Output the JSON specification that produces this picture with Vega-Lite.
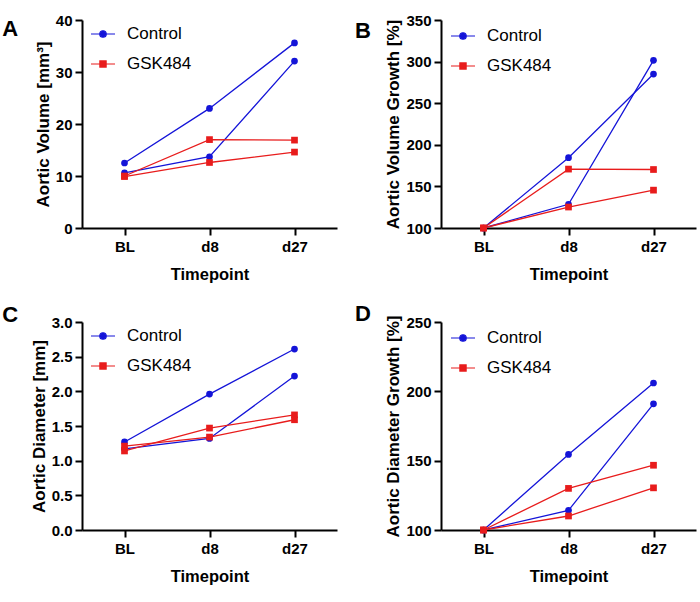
{
  "$schema": "https://vega.github.io/schema/vega-lite/v6.json",
  "padding": {"left": 2, "top": 13, "right": 5, "bottom": 5},
  "bounds": "flush",
  "config": {
    "view": {"stroke": null},
    "font": "Liberation Sans",
    "axis": {
      "grid": false,
      "domainColor": "#000000",
      "domainWidth": 2,
      "tickColor": "#000000",
      "tickWidth": 2,
      "tickSize": 7,
      "labelFont": "Liberation Sans",
      "labelFontSize": 15,
      "labelFontWeight": "bold",
      "labelColor": "#000000",
      "titleFont": "Liberation Sans",
      "titleFontSize": 17,
      "titleFontWeight": "bold",
      "titleColor": "#000000"
    },
    "axisX": {"labelPadding": 4, "titlePadding": 12, "labelAngle": 0, "titleFontSize": 16.5},
    "axisY": {"labelPadding": 3, "titlePadding": 3},
    "title": {"font": "Liberation Sans", "fontSize": 22, "fontWeight": "bold", "color": "#000000"}
  },
  "datasets": {
    "d": [
      {"panel": "A", "group": "Control", "subject": "C1", "time": "BL", "value": 12.5},
      {"panel": "A", "group": "Control", "subject": "C1", "time": "d8", "value": 23.0},
      {"panel": "A", "group": "Control", "subject": "C1", "time": "d27", "value": 35.6},
      {"panel": "A", "group": "Control", "subject": "C2", "time": "BL", "value": 10.6},
      {"panel": "A", "group": "Control", "subject": "C2", "time": "d8", "value": 13.7},
      {"panel": "A", "group": "Control", "subject": "C2", "time": "d27", "value": 32.1},
      {"panel": "A", "group": "GSK484", "subject": "G1", "time": "BL", "value": 10.0},
      {"panel": "A", "group": "GSK484", "subject": "G1", "time": "d8", "value": 17.0},
      {"panel": "A", "group": "GSK484", "subject": "G1", "time": "d27", "value": 16.9},
      {"panel": "A", "group": "GSK484", "subject": "G2", "time": "BL", "value": 9.9},
      {"panel": "A", "group": "GSK484", "subject": "G2", "time": "d8", "value": 12.6},
      {"panel": "A", "group": "GSK484", "subject": "G2", "time": "d27", "value": 14.6},
      {"panel": "B", "group": "Control", "subject": "C1", "time": "BL", "value": 100},
      {"panel": "B", "group": "Control", "subject": "C1", "time": "d8", "value": 184.5},
      {"panel": "B", "group": "Control", "subject": "C1", "time": "d27", "value": 285},
      {"panel": "B", "group": "Control", "subject": "C2", "time": "BL", "value": 100},
      {"panel": "B", "group": "Control", "subject": "C2", "time": "d8", "value": 128.5},
      {"panel": "B", "group": "Control", "subject": "C2", "time": "d27", "value": 301.5},
      {"panel": "B", "group": "GSK484", "subject": "G1", "time": "BL", "value": 100},
      {"panel": "B", "group": "GSK484", "subject": "G1", "time": "d8", "value": 170.8},
      {"panel": "B", "group": "GSK484", "subject": "G1", "time": "d27", "value": 170.3},
      {"panel": "B", "group": "GSK484", "subject": "G2", "time": "BL", "value": 100},
      {"panel": "B", "group": "GSK484", "subject": "G2", "time": "d8", "value": 125.2},
      {"panel": "B", "group": "GSK484", "subject": "G2", "time": "d27", "value": 145.5},
      {"panel": "C", "group": "Control", "subject": "C1", "time": "BL", "value": 1.27},
      {"panel": "C", "group": "Control", "subject": "C1", "time": "d8", "value": 1.96},
      {"panel": "C", "group": "Control", "subject": "C1", "time": "d27", "value": 2.61},
      {"panel": "C", "group": "Control", "subject": "C2", "time": "BL", "value": 1.17},
      {"panel": "C", "group": "Control", "subject": "C2", "time": "d8", "value": 1.32},
      {"panel": "C", "group": "Control", "subject": "C2", "time": "d27", "value": 2.22},
      {"panel": "C", "group": "GSK484", "subject": "G1", "time": "BL", "value": 1.14},
      {"panel": "C", "group": "GSK484", "subject": "G1", "time": "d8", "value": 1.47},
      {"panel": "C", "group": "GSK484", "subject": "G1", "time": "d27", "value": 1.66},
      {"panel": "C", "group": "GSK484", "subject": "G2", "time": "BL", "value": 1.21},
      {"panel": "C", "group": "GSK484", "subject": "G2", "time": "d8", "value": 1.34},
      {"panel": "C", "group": "GSK484", "subject": "G2", "time": "d27", "value": 1.59},
      {"panel": "D", "group": "Control", "subject": "C1", "time": "BL", "value": 100},
      {"panel": "D", "group": "Control", "subject": "C1", "time": "d8", "value": 154.5},
      {"panel": "D", "group": "Control", "subject": "C1", "time": "d27", "value": 206},
      {"panel": "D", "group": "Control", "subject": "C2", "time": "BL", "value": 100},
      {"panel": "D", "group": "Control", "subject": "C2", "time": "d8", "value": 114.2},
      {"panel": "D", "group": "Control", "subject": "C2", "time": "d27", "value": 191},
      {"panel": "D", "group": "GSK484", "subject": "G1", "time": "BL", "value": 100},
      {"panel": "D", "group": "GSK484", "subject": "G1", "time": "d8", "value": 130},
      {"panel": "D", "group": "GSK484", "subject": "G1", "time": "d27", "value": 146.7},
      {"panel": "D", "group": "GSK484", "subject": "G2", "time": "BL", "value": 100},
      {"panel": "D", "group": "GSK484", "subject": "G2", "time": "d8", "value": 110.1},
      {"panel": "D", "group": "GSK484", "subject": "G2", "time": "d27", "value": 130.4}
    ]
  },
  "columns": 2,
  "spacing": {"row": 94, "column": 104},
  "resolve": {
    "scale": {"fill": "independent", "stroke": "independent", "shape": "independent"},
    "legend": {"fill": "independent", "stroke": "independent", "shape": "independent"}
  },
  "concat": [
    {
      "width": 255, "height": 208,
      "title": {"text": "A", "anchor": "start", "frame": "bounds", "offset": 0, "dx": -32, "dy": 28},
      "data": {"name": "d"},
      "transform": [{"filter": "datum.panel == 'A'"}],
      "encoding": {
        "x": {"field": "time", "type": "ordinal", "sort": ["BL", "d8", "d27"], "scale": {"type": "point", "padding": 0.5}, "axis": {"title": "Timepoint"}},
        "y": {"field": "value", "type": "quantitative", "scale": {"domain": [0, 40]}, "axis": {"title": "Aortic Volume [mm³]", "values": [0, 10, 20, 30, 40]}}
      },
      "layer": [
        {"transform": [{"filter": "datum.group == 'Control'"}], "mark": {"type": "line", "strokeWidth": 1.3, "color": "#1414d8"}, "encoding": {"detail": {"field": "subject"}}},
        {"transform": [{"filter": "datum.group == 'GSK484'"}], "mark": {"type": "line", "strokeWidth": 1.3, "color": "#e81c1c"}, "encoding": {"detail": {"field": "subject"}}},
        {"transform": [{"filter": "datum.group == 'Control'"}], "mark": {"type": "circle", "size": 45, "color": "#1414d8", "opacity": 1}},
        {"transform": [{"filter": "datum.group == 'GSK484'"}], "mark": {"type": "square", "size": 45, "color": "#e81c1c", "opacity": 1}},
        {"transform": [{"filter": "datum.panel == 'none'"}], "mark": {"type": "point"},
         "encoding": {
           "fill": {"field": "group", "type": "nominal", "scale": {"domain": ["Control", "GSK484"], "range": ["#1414d8", "#e81c1c"]}, "legend": {"title": null, "orient": "none", "legendX": 8, "legendY": 1, "symbolSize": 576, "symbolStrokeWidth": 1.2, "symbolOpacity": 1, "labelFontSize": 17, "labelFont": "Liberation Sans", "labelColor": "#000000", "labelOffset": 11, "rowPadding": 9, "padding": 0}},
           "stroke": {"field": "group", "type": "nominal", "scale": {"domain": ["Control", "GSK484"], "range": ["#1414d8", "#e81c1c"]}, "legend": {"title": null, "orient": "none", "legendX": 8, "legendY": 1, "symbolSize": 576, "symbolStrokeWidth": 1.2, "symbolOpacity": 1, "labelFontSize": 17, "labelFont": "Liberation Sans", "labelColor": "#000000", "labelOffset": 11, "rowPadding": 9, "padding": 0}},
           "shape": {"field": "group", "type": "nominal", "scale": {"domain": ["Control", "GSK484"], "range": ["M-1,0H1M-0.27,0A0.27,0.27,0,1,0,0.27,0A0.27,0.27,0,1,0,-0.27,0Z", "M-1,0H1M-0.26,-0.26H0.26V0.26H-0.26Z"]}, "legend": {"title": null, "orient": "none", "legendX": 8, "legendY": 1, "symbolSize": 576, "symbolStrokeWidth": 1.2, "symbolOpacity": 1, "labelFontSize": 17, "labelFont": "Liberation Sans", "labelColor": "#000000", "labelOffset": 11, "rowPadding": 9, "padding": 0}}
         }}
      ]
    },
    {
      "width": 255, "height": 208,
      "title": {"text": "B", "anchor": "start", "frame": "bounds", "offset": 0, "dx": -30, "dy": 30},
      "data": {"name": "d"},
      "transform": [{"filter": "datum.panel == 'B'"}],
      "encoding": {
        "x": {"field": "time", "type": "ordinal", "sort": ["BL", "d8", "d27"], "scale": {"type": "point", "padding": 0.5}, "axis": {"title": "Timepoint"}},
        "y": {"field": "value", "type": "quantitative", "scale": {"domain": [100, 350]}, "axis": {"title": "Aortic Volume Growth  [%]", "values": [100, 150, 200, 250, 300, 350]}}
      },
      "layer": [
        {"transform": [{"filter": "datum.group == 'Control'"}], "mark": {"type": "line", "strokeWidth": 1.3, "color": "#1414d8"}, "encoding": {"detail": {"field": "subject"}}},
        {"transform": [{"filter": "datum.group == 'GSK484'"}], "mark": {"type": "line", "strokeWidth": 1.3, "color": "#e81c1c"}, "encoding": {"detail": {"field": "subject"}}},
        {"transform": [{"filter": "datum.group == 'Control'"}], "mark": {"type": "circle", "size": 45, "color": "#1414d8", "opacity": 1}},
        {"transform": [{"filter": "datum.group == 'GSK484'"}], "mark": {"type": "square", "size": 45, "color": "#e81c1c", "opacity": 1}},
        {"transform": [{"filter": "datum.panel == 'none'"}], "mark": {"type": "point"},
         "encoding": {
           "fill": {"field": "group", "type": "nominal", "scale": {"domain": ["Control", "GSK484"], "range": ["#1414d8", "#e81c1c"]}, "legend": {"title": null, "orient": "none", "legendX": 9, "legendY": 3, "symbolSize": 576, "symbolStrokeWidth": 1.2, "symbolOpacity": 1, "labelFontSize": 17, "labelFont": "Liberation Sans", "labelColor": "#000000", "labelOffset": 11, "rowPadding": 9, "padding": 0}},
           "stroke": {"field": "group", "type": "nominal", "scale": {"domain": ["Control", "GSK484"], "range": ["#1414d8", "#e81c1c"]}, "legend": {"title": null, "orient": "none", "legendX": 9, "legendY": 3, "symbolSize": 576, "symbolStrokeWidth": 1.2, "symbolOpacity": 1, "labelFontSize": 17, "labelFont": "Liberation Sans", "labelColor": "#000000", "labelOffset": 11, "rowPadding": 9, "padding": 0}},
           "shape": {"field": "group", "type": "nominal", "scale": {"domain": ["Control", "GSK484"], "range": ["M-1,0H1M-0.27,0A0.27,0.27,0,1,0,0.27,0A0.27,0.27,0,1,0,-0.27,0Z", "M-1,0H1M-0.26,-0.26H0.26V0.26H-0.26Z"]}, "legend": {"title": null, "orient": "none", "legendX": 9, "legendY": 3, "symbolSize": 576, "symbolStrokeWidth": 1.2, "symbolOpacity": 1, "labelFontSize": 17, "labelFont": "Liberation Sans", "labelColor": "#000000", "labelOffset": 11, "rowPadding": 9, "padding": 0}}
         }}
      ]
    },
    {
      "width": 255, "height": 208,
      "title": {"text": "C", "anchor": "start", "frame": "bounds", "offset": 0, "dx": -28, "dy": 12},
      "data": {"name": "d"},
      "transform": [{"filter": "datum.panel == 'C'"}],
      "encoding": {
        "x": {"field": "time", "type": "ordinal", "sort": ["BL", "d8", "d27"], "scale": {"type": "point", "padding": 0.5}, "axis": {"title": "Timepoint"}},
        "y": {"field": "value", "type": "quantitative", "scale": {"domain": [0, 3]}, "axis": {"title": "Aortic Diameter [mm]", "values": [0, 0.5, 1, 1.5, 2, 2.5, 3], "format": ".1f"}}
      },
      "layer": [
        {"transform": [{"filter": "datum.group == 'Control'"}], "mark": {"type": "line", "strokeWidth": 1.3, "color": "#1414d8"}, "encoding": {"detail": {"field": "subject"}}},
        {"transform": [{"filter": "datum.group == 'GSK484'"}], "mark": {"type": "line", "strokeWidth": 1.3, "color": "#e81c1c"}, "encoding": {"detail": {"field": "subject"}}},
        {"transform": [{"filter": "datum.group == 'Control'"}], "mark": {"type": "circle", "size": 45, "color": "#1414d8", "opacity": 1}},
        {"transform": [{"filter": "datum.group == 'GSK484'"}], "mark": {"type": "square", "size": 45, "color": "#e81c1c", "opacity": 1}},
        {"transform": [{"filter": "datum.panel == 'none'"}], "mark": {"type": "point"},
         "encoding": {
           "fill": {"field": "group", "type": "nominal", "scale": {"domain": ["Control", "GSK484"], "range": ["#1414d8", "#e81c1c"]}, "legend": {"title": null, "orient": "none", "legendX": 8, "legendY": 1, "symbolSize": 576, "symbolStrokeWidth": 1.2, "symbolOpacity": 1, "labelFontSize": 17, "labelFont": "Liberation Sans", "labelColor": "#000000", "labelOffset": 11, "rowPadding": 9, "padding": 0}},
           "stroke": {"field": "group", "type": "nominal", "scale": {"domain": ["Control", "GSK484"], "range": ["#1414d8", "#e81c1c"]}, "legend": {"title": null, "orient": "none", "legendX": 8, "legendY": 1, "symbolSize": 576, "symbolStrokeWidth": 1.2, "symbolOpacity": 1, "labelFontSize": 17, "labelFont": "Liberation Sans", "labelColor": "#000000", "labelOffset": 11, "rowPadding": 9, "padding": 0}},
           "shape": {"field": "group", "type": "nominal", "scale": {"domain": ["Control", "GSK484"], "range": ["M-1,0H1M-0.27,0A0.27,0.27,0,1,0,0.27,0A0.27,0.27,0,1,0,-0.27,0Z", "M-1,0H1M-0.26,-0.26H0.26V0.26H-0.26Z"]}, "legend": {"title": null, "orient": "none", "legendX": 8, "legendY": 1, "symbolSize": 576, "symbolStrokeWidth": 1.2, "symbolOpacity": 1, "labelFontSize": 17, "labelFont": "Liberation Sans", "labelColor": "#000000", "labelOffset": 11, "rowPadding": 9, "padding": 0}}
         }}
      ]
    },
    {
      "width": 255, "height": 208,
      "title": {"text": "D", "anchor": "start", "frame": "bounds", "offset": 0, "dx": -30, "dy": 11},
      "data": {"name": "d"},
      "transform": [{"filter": "datum.panel == 'D'"}],
      "encoding": {
        "x": {"field": "time", "type": "ordinal", "sort": ["BL", "d8", "d27"], "scale": {"type": "point", "padding": 0.5}, "axis": {"title": "Timepoint"}},
        "y": {"field": "value", "type": "quantitative", "scale": {"domain": [100, 250]}, "axis": {"title": "Aortic Diameter Growth [%]", "values": [100, 150, 200, 250]}}
      },
      "layer": [
        {"transform": [{"filter": "datum.group == 'Control'"}], "mark": {"type": "line", "strokeWidth": 1.3, "color": "#1414d8"}, "encoding": {"detail": {"field": "subject"}}},
        {"transform": [{"filter": "datum.group == 'GSK484'"}], "mark": {"type": "line", "strokeWidth": 1.3, "color": "#e81c1c"}, "encoding": {"detail": {"field": "subject"}}},
        {"transform": [{"filter": "datum.group == 'Control'"}], "mark": {"type": "circle", "size": 45, "color": "#1414d8", "opacity": 1}},
        {"transform": [{"filter": "datum.group == 'GSK484'"}], "mark": {"type": "square", "size": 45, "color": "#e81c1c", "opacity": 1}},
        {"transform": [{"filter": "datum.panel == 'none'"}], "mark": {"type": "point"},
         "encoding": {
           "fill": {"field": "group", "type": "nominal", "scale": {"domain": ["Control", "GSK484"], "range": ["#1414d8", "#e81c1c"]}, "legend": {"title": null, "orient": "none", "legendX": 9, "legendY": 3, "symbolSize": 576, "symbolStrokeWidth": 1.2, "symbolOpacity": 1, "labelFontSize": 17, "labelFont": "Liberation Sans", "labelColor": "#000000", "labelOffset": 11, "rowPadding": 9, "padding": 0}},
           "stroke": {"field": "group", "type": "nominal", "scale": {"domain": ["Control", "GSK484"], "range": ["#1414d8", "#e81c1c"]}, "legend": {"title": null, "orient": "none", "legendX": 9, "legendY": 3, "symbolSize": 576, "symbolStrokeWidth": 1.2, "symbolOpacity": 1, "labelFontSize": 17, "labelFont": "Liberation Sans", "labelColor": "#000000", "labelOffset": 11, "rowPadding": 9, "padding": 0}},
           "shape": {"field": "group", "type": "nominal", "scale": {"domain": ["Control", "GSK484"], "range": ["M-1,0H1M-0.27,0A0.27,0.27,0,1,0,0.27,0A0.27,0.27,0,1,0,-0.27,0Z", "M-1,0H1M-0.26,-0.26H0.26V0.26H-0.26Z"]}, "legend": {"title": null, "orient": "none", "legendX": 9, "legendY": 3, "symbolSize": 576, "symbolStrokeWidth": 1.2, "symbolOpacity": 1, "labelFontSize": 17, "labelFont": "Liberation Sans", "labelColor": "#000000", "labelOffset": 11, "rowPadding": 9, "padding": 0}}
         }}
      ]
    }
  ]
}
